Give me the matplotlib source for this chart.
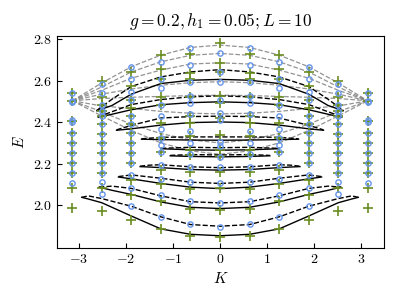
import numpy as np
import matplotlib
matplotlib.use("Agg")
import matplotlib.pyplot as plt

plt.rcParams['font.family'] = 'serif'
plt.rcParams['font.serif'] = ['cmr10']
plt.rcParams['mathtext.fontset'] = 'cm'
plt.rcParams['axes.formatter.use_mathtext'] = True
plt.rcParams['axes.unicode_minus'] = True

# --- DATA (symmetric in K, given for K >= 0) ---
K_cols = [0.0, 0.628, 1.257, 1.885, 2.513, 3.1416]

plus_E = [
    [2.779, 2.686, 2.640, 2.528, 2.493, 2.420, 2.338, 2.265, 2.236, 2.160, 2.081, 1.976, 1.848],
    [2.726, 2.638, 2.606, 2.520, 2.429, 2.395, 2.333, 2.268, 2.240, 2.159, 2.079, 1.984, 1.853],
    [2.724, 2.654, 2.609, 2.520, 2.485, 2.394, 2.324, 2.255, 2.172, 2.100, 2.019, 1.886],
    [2.644, 2.574, 2.509, 2.469, 2.429, 2.389, 2.348, 2.300, 2.252, 2.204, 2.120, 2.047, 1.931],
    [2.598, 2.522, 2.485, 2.453, 2.429, 2.389, 2.345, 2.300, 2.252, 2.204, 2.156, 2.083, 1.970],
    [2.541, 2.501, 2.405, 2.348, 2.300, 2.252, 2.201, 2.153, 2.083, 1.986],
]
circ_E = [
    [2.733, 2.640, 2.594, 2.506, 2.442, 2.412, 2.305, 2.284, 2.233, 2.185, 2.106, 2.011, 1.897],
    [2.757, 2.673, 2.594, 2.525, 2.493, 2.440, 2.357, 2.300, 2.249, 2.183, 2.110, 2.019, 1.908],
    [2.692, 2.609, 2.565, 2.485, 2.432, 2.365, 2.324, 2.292, 2.255, 2.196, 2.127, 2.047, 1.942],
    [2.664, 2.609, 2.545, 2.509, 2.429, 2.389, 2.348, 2.300, 2.252, 2.204, 2.148, 2.083, 1.995],
    [2.582, 2.541, 2.485, 2.453, 2.429, 2.389, 2.345, 2.300, 2.252, 2.204, 2.156, 2.111, 2.054],
    [2.541, 2.501, 2.495, 2.410, 2.400, 2.348, 2.300, 2.252, 2.201, 2.153, 2.108],
]

# grey dashed thresholds, values at K_cols
grey_E = [
    [2.771, 2.760, 2.723, 2.667, 2.589, 2.503],
    [2.731, 2.722, 2.691, 2.642, 2.570, 2.503],
    [2.686, 2.680, 2.651, 2.612, 2.554, 2.503],
    [2.595, 2.590, 2.578, 2.560, 2.535, 2.503],
    [2.530, 2.528, 2.524, 2.520, 2.514, 2.503],
    [2.440, 2.443, 2.452, 2.466, 2.478, 2.503],
    [2.300, 2.315, 2.345, 2.390, 2.450, 2.503],
    [2.245, 2.262, 2.300, 2.360, 2.430, 2.503],
]

# bound-state pairs: (K, solid, dashed), K >= 0, last point is the tip
pairs = [
    ([0, .628, 1.257, 1.885, 2.513, 2.80, 2.94],
     [1.853, 1.860, 1.886, 1.948, 2.012, 2.030, 2.038],
     [1.899, 1.907, 1.944, 1.995, 2.032, 2.045, 2.038]),
    ([0, .628, 1.257, 1.885, 2.30, 2.57],
     [1.984, 1.990, 2.016, 2.052, 2.072, 2.087],
     [2.011, 2.017, 2.045, 2.081, 2.092, 2.087]),
    ([0, .628, 1.257, 1.885, 2.16],
     [2.080, 2.087, 2.105, 2.127, 2.136],
     [2.105, 2.111, 2.130, 2.146, 2.138]),
    ([0, .628, 1.257, 1.50, 1.70],
     [2.169, 2.172, 2.181, 2.184, 2.186],
     [2.181, 2.185, 2.195, 2.193, 2.188]),
    ([0, .628, 1.06],
     [2.233, 2.235, 2.238],
     [2.242, 2.244, 2.240]),
    ([0, .628, 1.25],
     [2.265, 2.267, 2.272],
     [2.277, 2.279, 2.274]),
    ([0, .628, 1.257, 1.67],
     [2.313, 2.314, 2.316, 2.318],
     [2.329, 2.329, 2.327, 2.320]),
    ([0, .628, 1.257, 1.885, 2.20],
     [2.401, 2.398, 2.386, 2.368, 2.361],
     [2.429, 2.427, 2.420, 2.385, 2.363]),
    ([0, .628, 1.257, 1.885, 2.30, 2.59],
     [2.498, 2.494, 2.484, 2.460, 2.438, 2.424],
     [2.527, 2.522, 2.509, 2.485, 2.450, 2.426]),
    ([0, .628, 1.257, 1.885, 2.30, 2.62],
     [2.606, 2.602, 2.586, 2.535, 2.480, 2.455],
     [2.653, 2.642, 2.618, 2.572, 2.510, 2.457]),
]


def mirror(k, e):
    k = np.asarray(k, float)
    e = np.asarray(e, float)
    return np.concatenate([-k[::-1], k[1:]]), np.concatenate([e[::-1], e[1:]])


fig = plt.figure(figsize=(3.99, 3.0), dpi=100)
ax = fig.add_axes([0.1436, 0.174, 0.818, 0.706])

for g in grey_E:
    kk, ee = mirror(K_cols, g)
    ax.plot(kk, ee, ls='--', color='gray', lw=0.9, alpha=0.85)

for k, s, d in pairs:
    kk, ss = mirror(k, s)
    ax.plot(kk, ss, '-', color='black', lw=1.0)
    kk, dd = mirror(k, d)
    ax.plot(kk, dd, '--', color='black', lw=1.0)

for kc, es in zip(K_cols, plus_E):
    for sgn in ([1] if kc == 0 else [-1, 1]):
        ax.plot([sgn * kc] * len(es), es, '+', color='#6b8e23', ms=6.5, mew=1.2, ls='none')
for kc, es in zip(K_cols, circ_E):
    for sgn in ([1] if kc == 0 else [-1, 1]):
        ax.plot([sgn * kc] * len(es), es, 'o', mfc='none', mec='#6495ed', ms=3.8, mew=1.0, ls='none')

ax.set_xlim(-3.46, 3.48)
ax.set_ylim(1.795, 2.815)
ax.set_xticks([-3, -2, -1, 0, 1, 2, 3])
ax.set_yticks([2.0, 2.2, 2.4, 2.6, 2.8])
ax.tick_params(direction='in', labelsize=10)
ax.set_xlabel('$K$', fontsize=11)
ax.set_ylabel('$E$', fontsize=11)
ax.set_title('$g = 0.2, h_1 = 0.05; L = 10$', fontsize=12.5, pad=7)

plt.savefig('out.png', dpi=100)
